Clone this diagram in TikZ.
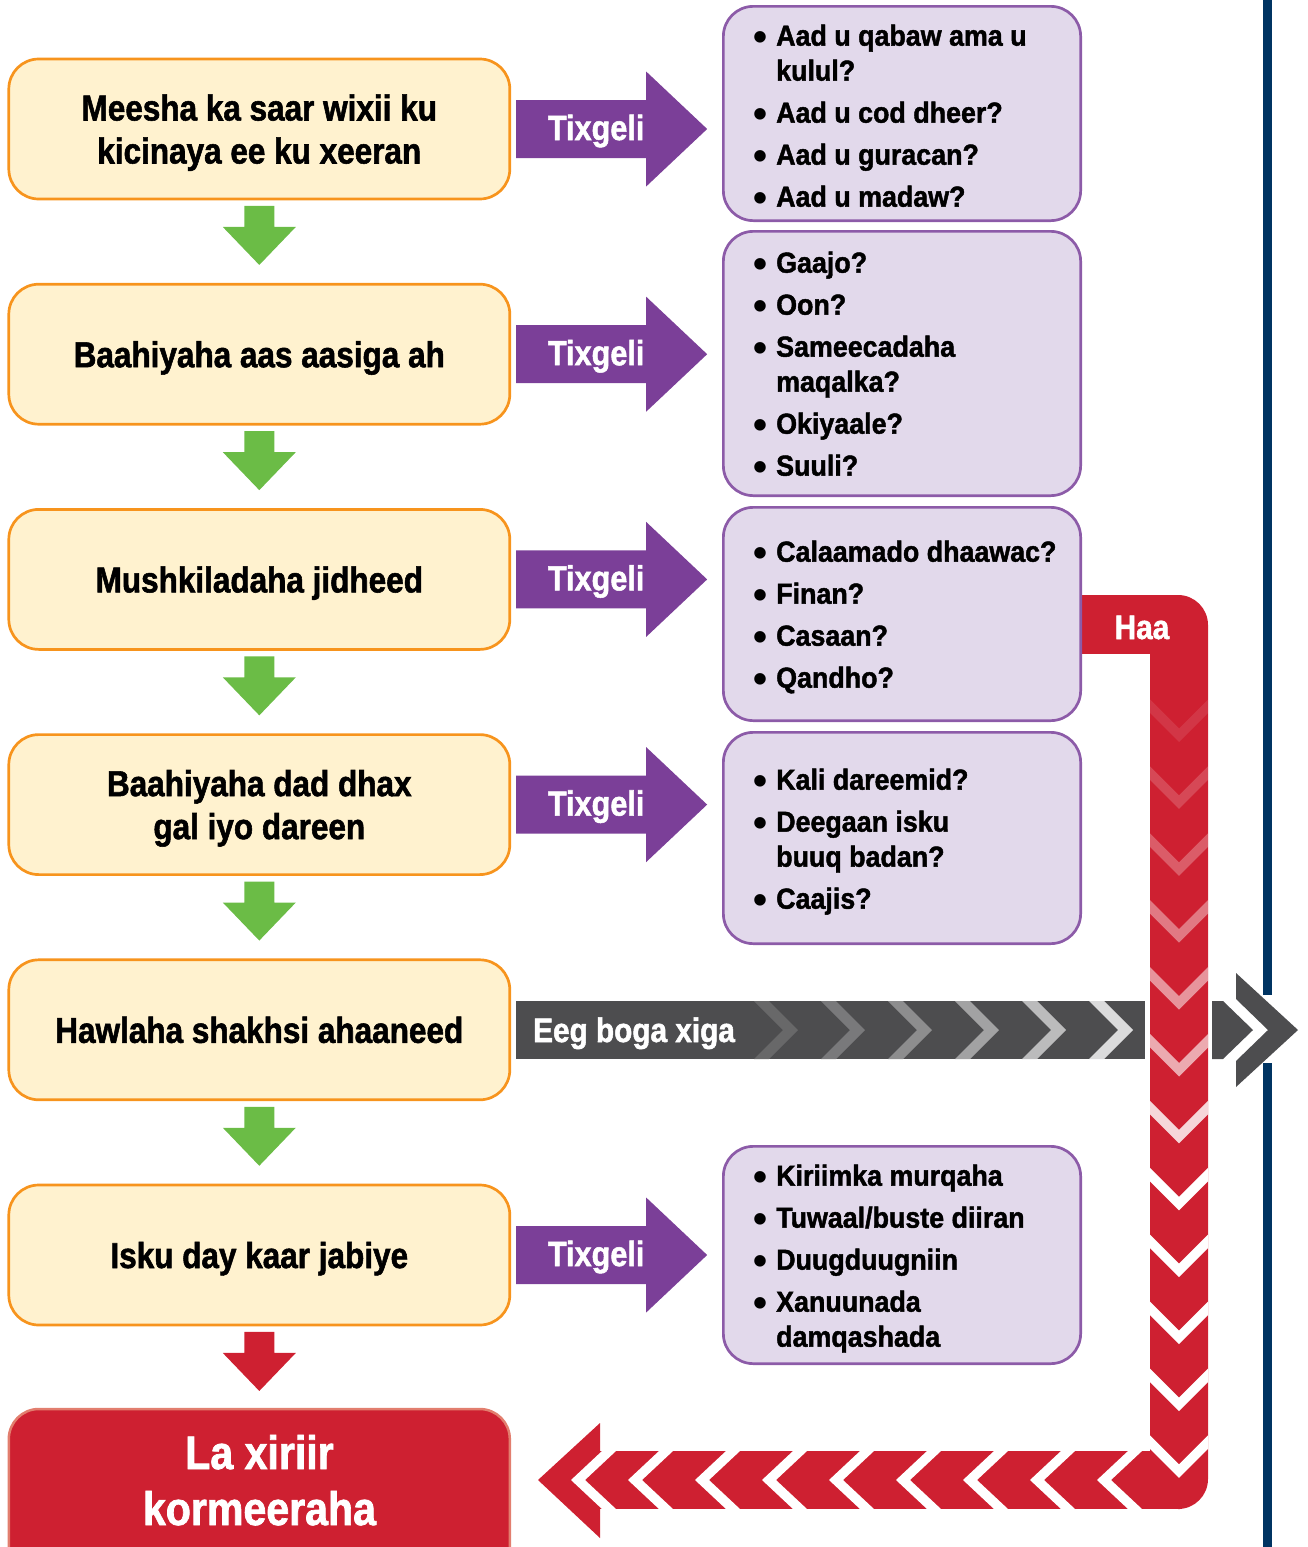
\documentclass[tikz,border=0pt]{standalone}
\usepackage{fontspec}
\newfontfamily\cond{Liberation Sans}[FakeStretch=0.875, BoldFeatures={FakeBold=1.5}]
\newfontfamily\condr{Liberation Sans}[FakeStretch=0.925, BoldFeatures={FakeBold=1.5}]
\newfontfamily\bulfont{Liberation Sans}
\usetikzlibrary{calc}
\definecolor{cream}{HTML}{FFF2CF}
\definecolor{orangeb}{HTML}{F7941D}
\definecolor{lav}{HTML}{E2D9EB}
\definecolor{purpb}{HTML}{8C5BA8}
\definecolor{purp}{HTML}{7B3F98}
\definecolor{greenc}{HTML}{6BBC46}
\definecolor{redc}{HTML}{CE2031}
\definecolor{redb}{HTML}{E27E6E}
\definecolor{greyc}{HTML}{4D4D4F}
\definecolor{navy}{HTML}{003462}
\newcommand\bul{{\bulfont\fontsize{40}{35}\selectfont\raisebox{-4.5pt}{\textbullet}}}
\begin{document}
\begin{tikzpicture}[x=1pt,y=-1pt,
 lbox/.style={draw=orangeb, line width=2.7pt, fill=cream, rounded corners=30pt, minimum width=501pt, minimum height=140pt, inner sep=0pt},
 ltext/.style={align=center, inner sep=0pt, font=\cond\bfseries\fontsize{36}{43}\selectfont},
 rbox/.style={draw=purpb, line width=2.7pt, fill=lav, rounded corners=30pt, minimum width=357.3pt, inner sep=0pt},
 rtext/.style={anchor=north west, inner sep=0pt, font=\condr\bfseries\fontsize{29}{35}\selectfont},
 wlabel/.style={text=white, inner sep=0pt, font=\cond\bfseries\fontsize{35}{42}\selectfont},
]
\useasboundingbox (0,0) rectangle (1308,1547);
\clip (0,0) rectangle (1308,1547);

% blue side line
\draw[navy, line width=8.3pt] (1267.5,0) -- (1267.5,995);
\draw[navy, line width=8.3pt] (1267.5,1063) -- (1267.5,1547);

% red return path
\fill[redc] (1082,595) rectangle (1180,654);
\fill[redc, rounded corners=30pt] (1150,595) rectangle (1208,1509);
\fill[redc] (600,1451) rectangle (1180,1509);
\fill[redc] (600,1423) -- (538,1480) -- (600,1538) -- cycle;
\foreach \t/\o in {742/0.1, 808.9/0.18, 875.8/0.27, 942.7/0.4, 1009.6/0.52, 1076.5/0.62, 1143.4/0.82, 1210.3/1, 1277.2/1, 1344.1/1, 1411/1, 1477.9/1}
  \fill[white, opacity=\o] (1150,\t-29) -- (1179,\t) -- (1208,\t-29) -- (1208,\t-42.5) -- (1179,\t-13.5) -- (1150,\t-42.5) -- cycle;
\foreach \x in {571,628,695,762,829,896,963,1030,1097}
  \fill[white] (\x,1480) -- (\x+31,1451) -- (\x+45,1451) -- (\x+14,1480) -- (\x+45,1509) -- (\x+31,1509) -- cycle;
\node[wlabel, anchor=base, font=\cond\bfseries\fontsize{34}{40}\selectfont] (haa) at (1142,639) {Haa};

% left boxes
\foreach \i/\y/\txt in {1/129/{Meesha ka saar wixii ku\\\strut kicinaya ee ku xeeran},
  2/354.2/{Baahiyaha aas aasiga ah},
  3/579.4/{Mushkiladaha jidheed},
  4/804.6/{Baahiyaha dad dhax\\\strut gal iyo dareen},
  5/1029.8/{Hawlaha shakhsi ahaaneed},
  6/1255/{Isku day kaar jabiye}}{
  \node[lbox] (lb\i) at (259.3,\y) {};
  \node[ltext] (lt\i) at ($(lb\i.center)+(0,4.4)$) {\strut\txt};
}
\node[lbox, draw=redb, line width=2.5pt, fill=redc, minimum height=170pt] (lbf) at (259.3,1494) {};
\node[wlabel, align=center, font=\cond\bfseries\fontsize{47}{56}\selectfont] (lft) at (259.5,1485.8) {\strut La xiriir\\\strut kormeeraha};

% down arrows
\foreach \i in {1,...,5}
  \fill[greenc] ($(lb\i.south)+(-15,5.6)$) -- ++(30,0) -- ++(0,21) -- ++(21.5,0) -- ++(-36.5,38) -- ++(-36.5,-38) -- ++(21.5,0) -- cycle;
\fill[redc] ($(lb6.south)+(-15,5.6)$) -- ++(30,0) -- ++(0,21) -- ++(21.5,0) -- ++(-36.5,38) -- ++(-36.5,-38) -- ++(21.5,0) -- cycle;

% right boxes
\node[rbox, minimum height=214.3pt] (rb1) at (902,113.5) {};
\node[rbox, minimum height=264.3pt] (rb2) at (902,363.5) {};
\node[rbox, minimum height=213.3pt] (rb3) at (902,614) {};
\node[rbox, minimum height=211.3pt] (rb4) at (902,838) {};
\node[rbox, minimum height=217.3pt] (rb5) at (902,1255) {};

\node[rtext] (rt1) at (753,21) {\begin{tabular}{@{}l@{\hspace{9pt}}l@{}}
\bul & Aad u qabaw ama u\\
 & kulul?\\[7pt]
\bul & Aad u cod dheer?\\[7pt]
\bul & Aad u guracan?\\[7pt]
\bul & Aad u madaw?
\end{tabular}};
\node[rtext] (rt2) at (753,248) {\begin{tabular}{@{}l@{\hspace{9pt}}l@{}}
\bul & Gaajo?\\[7pt]
\bul & Oon?\\[7pt]
\bul & Sameecadaha\\
 & maqalka?\\[7pt]
\bul & Okiyaale?\\[7pt]
\bul & Suuli?
\end{tabular}};
\node[rtext] (rt3) at (753,537) {\begin{tabular}{@{}l@{\hspace{9pt}}l@{}}
\bul & Calaamado dhaawac?\\[7pt]
\bul & Finan?\\[7pt]
\bul & Casaan?\\[7pt]
\bul & Qandho?
\end{tabular}};
\node[rtext] (rt4) at (753,765) {\begin{tabular}{@{}l@{\hspace{9pt}}l@{}}
\bul & Kali dareemid?\\[7pt]
\bul & Deegaan isku\\
 & buuq badan?\\[7pt]
\bul & Caajis?
\end{tabular}};
\node[rtext] (rt5) at (753,1161) {\begin{tabular}{@{}l@{\hspace{9pt}}l@{}}
\bul & Kiriimka murqaha\\[7pt]
\bul & Tuwaal/buste diiran\\[7pt]
\bul & Duugduugniin\\[7pt]
\bul & Xanuunada\\
 & damqashada
\end{tabular}};

% purple arrows
\foreach \i in {1,2,3,4,6}{
  \fill[purp] ($(lb\i.east)+(5,-29)$) -- ++(130,0) -- ++(0,-28.5) -- ++(61,57.5) -- ++(-61,57.5) -- ++(0,-28.5) -- ++(-130,0) -- cycle;
  \node[wlabel, anchor=base] (tx\i) at ($(lb\i.east)+(85,11)$) {Tixgeli};
}

% grey arrow
\fill[greyc] ($(lb5.east)+(5,-29)$) rectangle ++(629,58);
\foreach \T/\p in {798/15, 865/25, 932/36, 999/48, 1066/62, 1133/80}
  \fill[white!\p!greyc] (\T-44,1001) -- (\T-29,1001) -- (\T,1030) -- (\T-29,1059) -- (\T-44,1059) -- (\T-15,1030) -- cycle;
\node[wlabel, anchor=base west, font=\cond\bfseries\fontsize{34}{40}\selectfont] (eeg) at (533,1042) {Eeg boga xiga};
\fill[greyc] (1212,1001) -- (1223,1001) -- (1253,1030) -- (1223,1059) -- (1212,1059) -- cycle;
\fill[greyc] (1236,973) -- (1298,1030) -- (1236,1087) -- (1236,1061) -- (1268,1030) -- (1236,999) -- cycle;
\end{tikzpicture}
\end{document}
